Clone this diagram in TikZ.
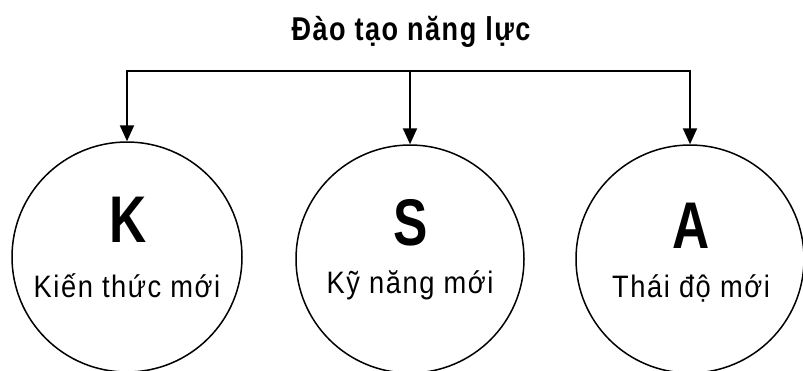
\documentclass[tikz,border=0pt]{standalone}
\usepackage{fontspec}
\setmainfont{Liberation Sans}
% narrow faces with slightly open tracking
\newfontfamily\headfont{Liberation Sans}[FakeStretch=0.82, LetterSpace=4.5]
\newfontfamily\capfont{Liberation Sans}[FakeStretch=0.88, LetterSpace=5]
\newfontfamily\letterfont{Liberation Sans}[FakeStretch=0.78]
\usetikzlibrary{arrows.meta}
\tikzset{
  ring/.style={circle, draw, line width=1.5pt, minimum size=#1, inner sep=0pt},
  link/.style={line width=2.2pt, -{Triangle[width=14pt,length=16pt]}},
  bigletter/.style={anchor=base, inner sep=0pt, font=\letterfont\bfseries\fontsize{66}{66}\selectfont},
  caption/.style={anchor=base, inner sep=0pt, font=\capfont\fontsize{31}{33}\selectfont},
  heading/.style={anchor=base, inner sep=0pt, font=\headfont\bfseries\fontsize{33}{35}\selectfont}
}
\begin{document}
\begin{tikzpicture}[x=1pt, y=-1pt]
  \useasboundingbox (0,0) rectangle (803,370);

  % title
  \node[heading] (title) at (411,40) {Đào tạo năng lực};

  % the three circles
  \node[ring=230pt] (k) at (127,257) {};
  \node[ring=228pt] (s) at (410,259) {};
  \node[ring=228pt] (a) at (690,259) {};

  % letters and captions
  \node[bigletter] (kl) at (128,242) {K};
  \node[bigletter] (sl) at (411,245) {S};
  \node[bigletter] (al) at (691,248) {A};
  \node[caption] (kc) at (127,297) {Kiến thức mới};
  \node[caption] (sc) at (410,293) {Kỹ năng mới};
  \node[caption] (ac) at (691,297) {Thái độ mới};

  % branching connector
  \coordinate (split) at (410,71);
  \draw[link] (split) -| (k.north);
  \draw[link] (split) -- (s.north);
  \draw[link] (split) -| (a.north);
\end{tikzpicture}
\end{document}
